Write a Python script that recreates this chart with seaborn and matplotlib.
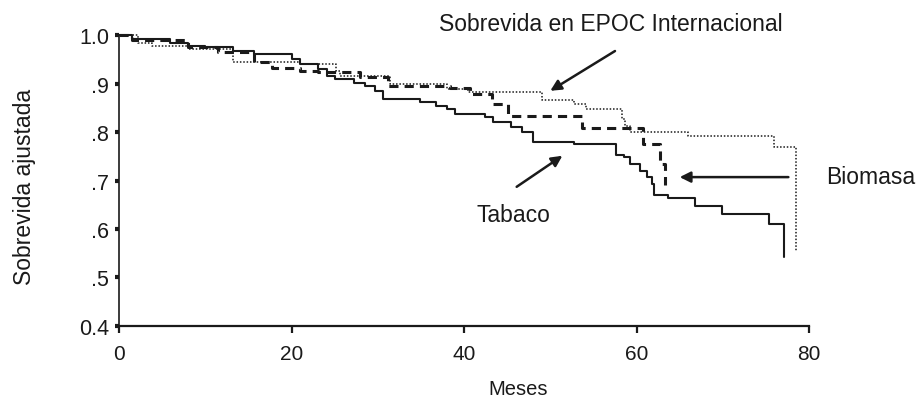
import pandas as pd
import seaborn as sns
import matplotlib.pyplot as plt

# Datos: meses y sobrevida ajustada tras cada escalon
tabaco_meses = [0, 1.5, 5.9, 8.0, 10.0, 13.2, 15.6, 20.0, 21.0, 23.1, 24.1, 25.0, 27.2, 28.5,
                29.7, 30.6, 34.9, 36.8, 38.0, 39.0, 42.4, 43.4, 45.5, 46.7, 48.0, 52.7, 57.6,
                58.5, 59.2, 60.4, 61.2, 61.8, 62.0, 63.7, 66.8, 69.9, 75.4, 77.1]
tabaco_sobrev = [1.0, 0.992, 0.983, 0.978, 0.975, 0.968, 0.961, 0.951, 0.940, 0.930, 0.915, 0.909,
                 0.902, 0.895, 0.885, 0.868, 0.861, 0.854, 0.847, 0.837, 0.830, 0.820, 0.810,
                 0.799, 0.779, 0.775, 0.753, 0.748, 0.734, 0.720, 0.707, 0.693, 0.670, 0.663,
                 0.647, 0.631, 0.610, 0.542]

biomasa_meses = [0, 1.5, 8.0, 11.5, 15.6, 17.7, 21.0, 23.1, 27.9, 31.2, 38.4, 40.7, 43.2, 45.1,
                 53.7, 60.7, 62.7, 63.3]
biomasa_sobrev = [1.0, 0.990, 0.975, 0.964, 0.944, 0.933, 0.926, 0.923, 0.913, 0.895, 0.890,
                  0.878, 0.858, 0.834, 0.808, 0.775, 0.735, 0.690]

epoc_meses = [0, 2.2, 3.8, 8.0, 13.2, 21.0, 25.2, 25.6, 31.4, 38.0, 40.5, 49.0, 52.8, 54.1,
              58.3, 58.7, 59.2, 66.0, 75.9, 78.5]
epoc_sobrev = [1.0, 0.983, 0.978, 0.971, 0.945, 0.940, 0.925, 0.916, 0.899, 0.889, 0.882, 0.865,
               0.858, 0.847, 0.827, 0.813, 0.799, 0.791, 0.770, 0.555]

y_ticks = [0.4, 0.5, 0.6, 0.7, 0.8, 0.9, 1.0]
y_tick_labels = ['0.4', '.5', '.6', '.7', '.8', '.9', '1.0']
x_ticks = [0, 20, 40, 60, 80]

sns.set_style('ticks')
plt.rcParams['font.family'] = ['Liberation Sans', 'DejaVu Sans']
ink = '#1a1a1a'

fig = plt.figure(figsize=(9.17, 4.02), dpi=100)
ax = fig.add_axes([0.1298, 0.1866, 0.7525, 0.7238])

sns.lineplot(x=tabaco_meses, y=tabaco_sobrev, ax=ax, color=ink, lw=1.5,
             drawstyle='steps-post', estimator=None, clip_on=False)
sns.lineplot(x=biomasa_meses, y=biomasa_sobrev, ax=ax, color=ink, lw=2.2,
             drawstyle='steps-post', estimator=None, dashes=False, clip_on=False,
             linestyle=(0, (3, 2)))
sns.lineplot(x=epoc_meses, y=epoc_sobrev, ax=ax, color=ink, lw=1.1,
             drawstyle='steps-post', estimator=None, clip_on=False,
             linestyle=(0, (1, 1.2)))

ax.set_xlim(0, 80)
ax.set_ylim(0.4, 1.0)
ax.set_xticks(x_ticks)
ax.set_yticks(y_ticks)
ax.set_yticklabels(y_tick_labels)

sns.despine(ax=ax)
ax.spines['left'].set_linewidth(1.2)
ax.spines['bottom'].set_linewidth(1.6)
ax.spines['left'].set_color(ink)
ax.spines['bottom'].set_color(ink)
ax.tick_params(axis='y', length=3, width=3, pad=4, labelsize=15.5, colors=ink)
ax.tick_params(axis='x', length=5, width=1.6, pad=8, labelsize=15, colors=ink)

ax.set_xlabel('Meses', fontsize=14.5, color=ink)
ax.xaxis.set_label_coords(0.578, -0.183)
ax.set_ylabel('Sobrevida ajustada', fontsize=16.5, color=ink)
ax.yaxis.set_label_coords(-0.12, 0.48)

arrow = dict(arrowstyle='-|>', color=ink, lw=1.8, mutation_scale=16, shrinkA=0, shrinkB=0)
ax.annotate('Sobrevida en EPOC Internacional', xy=(57.0, 1.023), ha='center', va='center',
            fontsize=16.5, color=ink, annotation_clip=False)
ax.annotate('', xy=(50.0, 0.885), xytext=(57.5, 0.967), arrowprops=arrow, annotation_clip=False)

ax.annotate('Biomasa', xy=(87.1, 0.709), ha='center', va='center',
            fontsize=16.5, color=ink, annotation_clip=False)
ax.annotate('', xy=(65.0, 0.707), xytext=(77.6, 0.707), arrowprops=arrow, annotation_clip=False)

ax.annotate('Tabaco', xy=(45.7, 0.629), ha='center', va='center',
            fontsize=16.5, color=ink, annotation_clip=False)
ax.annotate('', xy=(51.4, 0.751), xytext=(46.1, 0.687), arrowprops=arrow, annotation_clip=False)

plt.savefig('out.png', dpi=100)
